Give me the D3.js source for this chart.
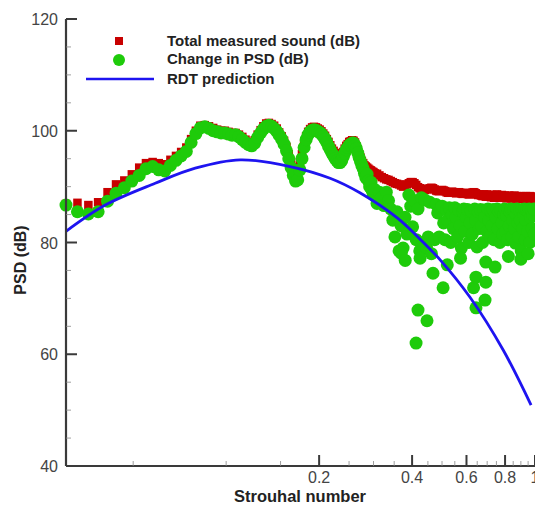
<!DOCTYPE html>
<html><head><meta charset="utf-8">
<script src="https://cdn.jsdelivr.net/npm/d3@7"></script>
<style>html,body{margin:0;padding:0;background:#fff;}svg{display:block;}</style>
</head><body>
<script>
// ---- data ----
// low / mid Strouhal range (dense spectrum)
const strouhalLow = [
0.0303,0.0330,0.0358,0.0385,0.0413,0.0440,0.0468,0.0495,0.0523,0.0550,
0.0578,0.0605,0.0633,0.0660,0.0688,0.0715,0.0743,0.0770,0.0798,0.0825,
0.0853,0.0880,0.0908,0.0935,0.0963,0.0990,0.1018,0.1045,0.1073,0.1100,
0.1128,0.1155,0.1183,0.1210,0.1238,0.1265,0.1293,0.1320,0.1348,0.1375,
0.1403,0.1430,0.1458,0.1485,0.1513,0.1540,0.1568,0.1595,0.1623,0.1650,
0.1678,0.1705,0.1733,0.1760,0.1788,0.1815,0.1843,0.1870,0.1898,0.1925,
0.1953,0.1980,0.2008,0.2035,0.2063,0.2090,0.2118,0.2145,0.2173,0.2200,
0.2228,0.2255,0.2283,0.2310,0.2338,0.2365,0.2393,0.2420,0.2448,0.2475,
0.2503,0.2530,0.2558,0.2585,0.2613,0.2640,0.2668,0.2695,0.2723,0.2750,
0.2778,0.2805,0.2833,0.2860,0.2888,0.2915,0.2943,0.2970,0.2998,0.3025,
0.3080,0.3135,0.3190,0.3245,0.3300,0.3355,0.3410,0.3465,0.3520,0.3575,
0.3630,0.3685,0.3740,0.3795,0.3850,0.3905,0.3960];

const totalLow = [
86.9,87.1,86.7,87.2,89.0,90.4,91.1,92.2,93.4,94.2,
94.4,94.2,94.0,94.8,95.5,96.2,97.0,98.5,100.0,100.9,
101.0,100.8,100.5,100.2,100.0,100.0,99.8,99.6,99.6,99.3,
98.9,98.4,98.0,97.9,98.3,99.3,100.1,100.8,101.3,101.4,
101.2,100.9,100.4,99.7,99.0,98.2,97.1,95.8,94.4,93.0,
92.2,92.4,93.8,95.8,97.6,99.0,99.8,100.3,100.6,100.7,
100.6,100.4,100.2,99.9,99.5,99.1,98.5,98.0,97.4,96.8,
96.4,96.0,95.6,95.3,95.3,95.6,96.2,96.8,97.3,97.6,
98.0,98.1,98.3,98.2,97.9,97.2,96.6,95.8,95.2,94.6,
94.2,93.8,93.6,93.4,93.2,93.0,92.9,92.7,92.6,92.4,
92.3,92.0,91.7,91.5,91.3,91.2,91.0,90.8,90.6,90.5,
90.4,90.2,90.0,90.2,90.4,90.6,90.8];

const changeLow = [
86.7,85.5,85.1,85.5,87.4,88.8,89.8,91.0,92.0,93.2,
93.6,93.0,92.8,93.8,94.7,95.5,96.3,97.9,99.5,100.5,
100.7,100.4,100.0,99.8,99.6,99.6,99.4,99.2,99.3,98.9,
98.4,97.9,97.5,97.3,97.8,98.8,99.6,100.3,100.8,101.0,
100.8,100.4,99.9,99.2,98.5,97.6,96.4,95.0,93.4,92.0,
91.0,91.2,93.0,95.0,97.0,98.4,99.3,99.8,100.1,100.2,
100.1,99.9,99.7,99.4,99.0,98.5,97.9,97.2,96.6,96.0,
95.5,95.0,94.6,94.3,94.3,94.6,95.3,96.0,96.6,97.0,
97.4,97.6,97.8,97.8,97.4,96.8,96.0,95.2,94.5,93.8,
93.2,92.4,91.6,92.2,91.0,90.0,90.8,89.3,88.5,89.5,
87.0,89.0,88.0,86.6,89.0,87.5,86.0,84.0,81.0,85.5,
78.5,83.0,79.0,84.5,81.5,88.5,86.5];

// high Strouhal range (broadband, scattered)
const strouhalHigh = [
0.4015,0.4070,0.4125,0.4180,0.4235,0.4290,0.4345,0.4400,0.4455,0.4510,
0.4565,0.4620,0.4675,0.4730,0.4785,0.4840,0.4895,0.4950,0.5005,0.5060,
0.5115,0.5170,0.5225,0.5280,0.5335,0.5390,0.5445,0.5500,0.5555,0.5610,
0.5665,0.5720,0.5775,0.5830,0.5885,0.5940,0.5995,0.6050,0.6105,0.6160,
0.6215,0.6270,0.6325,0.6380,0.6435,0.6490,0.6545,0.6600,0.6655,0.6710,
0.6765,0.6820,0.6875,0.6930,0.6985,0.7040,0.7095,0.7150,0.7205,0.7260,
0.7315,0.7370,0.7425,0.7480,0.7535,0.7590,0.7645,0.7700,0.7755,0.7810,
0.7865,0.7920,0.7975,0.8030,0.8085,0.8140,0.8195,0.8250,0.8305,0.8360,
0.8415,0.8470,0.8525,0.8580,0.8635,0.8690,0.8745,0.8800,0.8855,0.8910,
0.8965,0.9020,0.9075,0.9130,0.9185,0.9240,0.9295,0.9350,0.9405,0.9460,
0.9515,0.9570,0.9625,0.9680,0.9735,0.9790,0.9845,0.9900,0.9955];

const totalHigh = [
90.8,90.6,90.3,89.9,89.7,89.6,89.5,89.4,89.5,89.6,
89.7,89.8,89.7,89.5,89.3,89.2,89.2,89.3,89.4,89.3,
89.2,89.0,88.9,88.9,89.0,89.1,89.0,88.9,88.8,88.9,
89.0,88.9,88.8,88.7,88.8,88.9,88.8,88.7,88.6,88.7,
88.8,88.9,89.0,88.9,88.8,88.6,88.5,88.6,88.5,88.4,
88.3,88.6,88.5,88.2,88.6,88.2,88.5,88.4,88.1,88.5,
88.3,88.0,88.5,88.2,88.6,88.1,88.4,88.0,88.3,88.5,
88.1,88.0,88.4,88.2,87.9,88.3,88.1,88.4,88.0,87.9,
88.3,87.9,88.2,88.4,88.0,87.9,88.3,88.1,87.9,88.2,
87.9,88.3,88.0,87.8,88.2,88.1,87.9,88.3,88.0,88.2,
87.8,88.1,88.3,87.9,88.2,88.0,87.8,88.2,88.0];

const changeHigh = [
82.8,87.5,80.5,86.0,78.5,88.0,80.0,87.6,79.0,81.0,
87.2,78.0,74.5,80.5,86.8,85.3,81.0,86.3,86.5,83.5,
80.5,85.8,84.0,86.2,80.0,85.0,82.5,86.2,84.5,81.0,
85.8,83.0,79.0,85.5,86.0,82.0,84.5,85.9,80.0,83.5,
85.6,81.5,71.9,86.0,84.0,79.2,85.5,82.5,85.9,83.0,
80.0,85.8,84.5,76.5,82.0,86.0,84.0,81.0,85.6,83.0,
85.9,80.5,75.6,84.5,86.0,82.5,85.5,80.0,85.8,83.5,
81.5,85.0,86.0,82.0,84.8,80.5,85.8,83.0,85.5,86.0,
81.0,84.0,85.9,82.5,79.9,85.0,86.0,83.5,81.0,85.8,
84.0,78.5,85.9,82.5,85.0,86.0,80.5,84.0,85.8,82.0,
85.5,86.0,80.0,84.5,85.8,82.5,85.0,86.0,81.5];

// extra scattered low points of the "Change in PSD" series
const changeExtraSt = [0.369,0.380,0.412,0.418,0.4245,0.447,0.504,0.520,0.574,0.644,0.644,0.689,0.693,0.82,0.90,0.95];
const changeExtraDb = [78.1,76.8,62.0,67.9,77.2,66.0,71.9,76.0,77.2,68.3,73.8,69.7,72.9,77.5,77.0,78.0];

// RDT prediction curve
const rdtSt = [0.0303,0.0406,0.0589,0.0794,0.111,0.161,0.217,0.271,0.358,0.4245,0.493,0.616,0.788,0.971];
const rdtDb = [82.0,86.7,90.6,93.3,94.8,93.6,91.5,88.9,84.4,80.6,76.9,70.2,60.8,50.9];

const yMajor = [40,60,80,100,120];
const yMinor = [45,50,55,65,70,75,85,90,95,105,110,115];
const xMajor = [0.2,0.4,0.6,0.8,1];
const xMajorLabels = ["0.2","0.4","0.6","0.8","1"];
const xMinor = [0.05,0.1,0.15,0.25,0.3,0.35,0.45,0.5,0.55,0.65,0.7,0.75,0.85,0.9,0.95];

const legendLabels = ["Total measured sound (dB)","Change in PSD (dB)","RDT prediction"];
const colors = {total:"#c80000", change:"#1ecb0a", rdt:"#1e14f0"};

// ---- drawing ----
const W = 535, H = 506;
const svg = d3.select("body").append("svg").attr("width",W).attr("height",H);
const x = d3.scaleLog().domain([0.0303,1]).range([66,535]);
const y = d3.scaleLinear().domain([40,120]).range([466,19]);

const plot = svg.append("g");
const totalPts = strouhalLow.map((s,i)=>[s,totalLow[i]]).concat(strouhalHigh.map((s,i)=>[s,totalHigh[i]]));
const changePts = strouhalLow.map((s,i)=>[s,changeLow[i]])
  .concat(strouhalHigh.map((s,i)=>[s,changeHigh[i]]))
  .concat(changeExtraSt.map((s,i)=>[s,changeExtraDb[i]]));
const sq = 8.5;
plot.append("g").selectAll("rect").data(totalPts).join("rect")
  .attr("x",d=>x(d[0])-sq/2).attr("y",d=>y(d[1])-sq/2).attr("width",sq).attr("height",sq)
  .attr("fill",colors.total);
plot.append("g").selectAll("circle").data(changePts).join("circle")
  .attr("cx",d=>x(d[0])).attr("cy",d=>y(d[1])).attr("r",6.5).attr("fill",colors.change);
const line = d3.line().x(d=>x(d[0])).y(d=>y(d[1])).curve(d3.curveCatmullRom);
plot.append("path").datum(rdtSt.map((s,i)=>[s,rdtDb[i]])).attr("d",line)
  .attr("fill","none").attr("stroke",colors.rdt).attr("stroke-width",2.8);

// axes
const axisColor = "#3a3a3a";
const ax = svg.append("g").attr("stroke",axisColor);
ax.append("line").attr("x1",66).attr("x2",66).attr("y1",y(120)).attr("y2",y(40)).attr("stroke-width",2.2);
ax.append("line").attr("x1",66).attr("x2",535).attr("y1",y(40)).attr("y2",y(40)).attr("stroke-width",2.2);
yMajor.forEach(v=>ax.append("line").attr("x1",66).attr("x2",77).attr("y1",y(v)).attr("y2",y(v)).attr("stroke-width",2));
yMinor.forEach(v=>ax.append("line").attr("x1",66).attr("x2",71).attr("y1",y(v)).attr("y2",y(v)).attr("stroke-width",0.8).attr("stroke","#888"));
xMajor.forEach(v=>ax.append("line").attr("x1",x(v)).attr("x2",x(v)).attr("y1",466).attr("y2",455).attr("stroke-width",2));
xMinor.forEach(v=>ax.append("line").attr("x1",x(v)).attr("x2",x(v)).attr("y1",466).attr("y2",461).attr("stroke-width",0.8).attr("stroke","#888"));

const font = "'Liberation Sans', Arial, Helvetica, sans-serif";
svg.append("g").selectAll("text").data(yMajor).join("text")
  .attr("x",58).attr("y",d=>y(d)+6).attr("text-anchor","end")
  .attr("font-family",font).attr("font-size",16).attr("fill","#444").text(d=>d);
svg.append("g").selectAll("text").data(xMajor).join("text")
  .attr("x",d=>x(d)).attr("y",483).attr("text-anchor","middle")
  .attr("font-family",font).attr("font-size",16).attr("fill","#444").text((d,i)=>xMajorLabels[i]);

svg.append("text").attr("x",300).attr("y",502).attr("text-anchor","middle")
  .attr("font-family",font).attr("font-size",16.5).attr("font-weight","bold").attr("fill","#222").text("Strouhal number");
svg.append("text").attr("transform","translate(26,260) rotate(-90)").attr("text-anchor","middle")
  .attr("font-family",font).attr("font-size",16).attr("font-weight","bold").attr("fill","#222").text("PSD (dB)");

// legend
const lg = svg.append("g");
lg.append("rect").attr("x",115).attr("y",37).attr("width",8).attr("height",8).attr("fill",colors.total);
lg.append("circle").attr("cx",119).attr("cy",60).attr("r",6).attr("fill",colors.change);
lg.append("line").attr("x1",86).attr("x2",154).attr("y1",79).attr("y2",79).attr("stroke",colors.rdt).attr("stroke-width",2.5);
[46,64,84].forEach((yy,i)=>lg.append("text").attr("x",167).attr("y",yy)
  .attr("font-family",font).attr("font-size",15).attr("font-weight","bold").attr("fill","#222").text(legendLabels[i]));
</script>
</body></html>
